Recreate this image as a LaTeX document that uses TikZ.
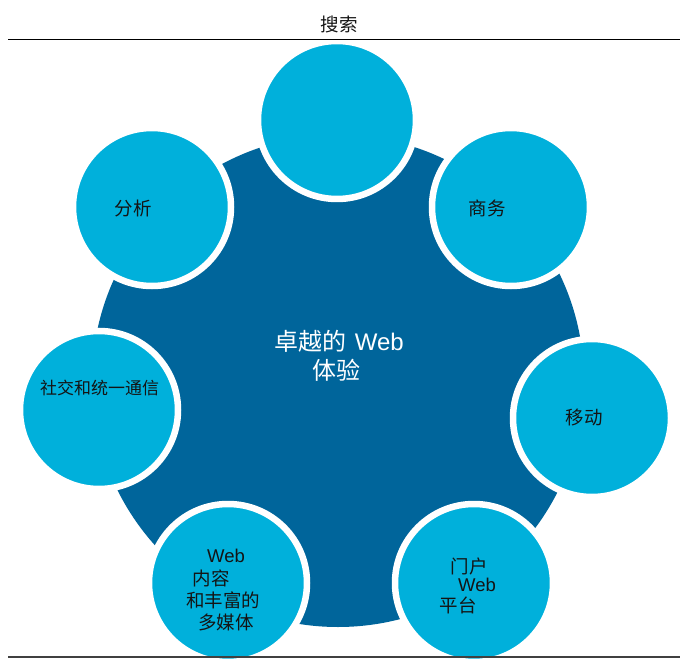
\documentclass[tikz,border=0pt]{standalone}
\usepackage{fontspec}
\setmainfont{Liberation Sans}
\newfontfamily\cjk{Noto Sans CJK SC}
\definecolor{darkb}{RGB}{0,101,155}
\definecolor{lightb}{RGB}{0,176,219}
\definecolor{txt}{RGB}{20,20,20}
\begin{document}
\begin{tikzpicture}[x=1pt,y=-1pt,
  bubble/.style={circle,fill=lightb,draw=white,line width=6.5pt,minimum size=158pt,inner sep=0pt},
  lbl/.style={text=txt,font=\fontsize{18.5}{20}\selectfont,inner sep=0pt},
  clbl/.style={text=white,font=\fontsize{24}{26}\selectfont,inner sep=0pt}]
\useasboundingbox (0,0) rectangle (680,660);
% big central disc
\fill[darkb] (338,381) circle[radius=246];
% bubbles
\node[bubble] (top) at (337,120) {};
\node[bubble] (ur) at (511,207) {};
\node[bubble] (rt) at (592,418) {};
\node[bubble] (lr) at (474,583) {};
\node[bubble] (ll) at (228,583) {};
\node[bubble] (lf) at (99,410) {};
\node[bubble] (ul) at (152,207) {};
% centre text
\node[clbl] (c1) at (339,341) {{\cjk 卓越的}\hspace{2pt} Web};
\node[clbl] (c2) at (336,370) {\cjk 体验};
% labels
\node[lbl] (t1) at (133,208) {\cjk 分析};
\node[lbl] (t2) at (487,208) {\cjk 商务};
\node[lbl] (t3) at (584,418) {\cjk 移动};
\node[lbl,font=\fontsize{17}{19}\selectfont] (t4) at (99.5,388) {\cjk 社交和统一通信};
\node[lbl] (t5a) at (226,556) {Web};
\node[lbl] (t5b) at (211,578) {\cjk 内容};
\node[lbl] (t5c) at (223,600) {\cjk 和丰富的};
\node[lbl] (t5d) at (226,622) {\cjk 多媒体};
\node[lbl] (t6a) at (469,566) {\cjk 门户};
\node[lbl] (t6b) at (477,585) {Web};
\node[lbl] (t6c) at (458,605) {\cjk 平台};
% header
\node[text=txt,font=\fontsize{18.5}{20}\selectfont\cjk,inner sep=0pt] (hd) at (339,24) {搜索};
\coordinate (a1) at (8,39.5);
\coordinate (a2) at (680,39.5);
\coordinate (b1) at (8,657);
\coordinate (b2) at (680,657);
\draw[black,line width=1.5pt] (a1) -- (a2);
\draw[black!75,line width=2pt] (b1) -- (b2);
\end{tikzpicture}
\end{document}
